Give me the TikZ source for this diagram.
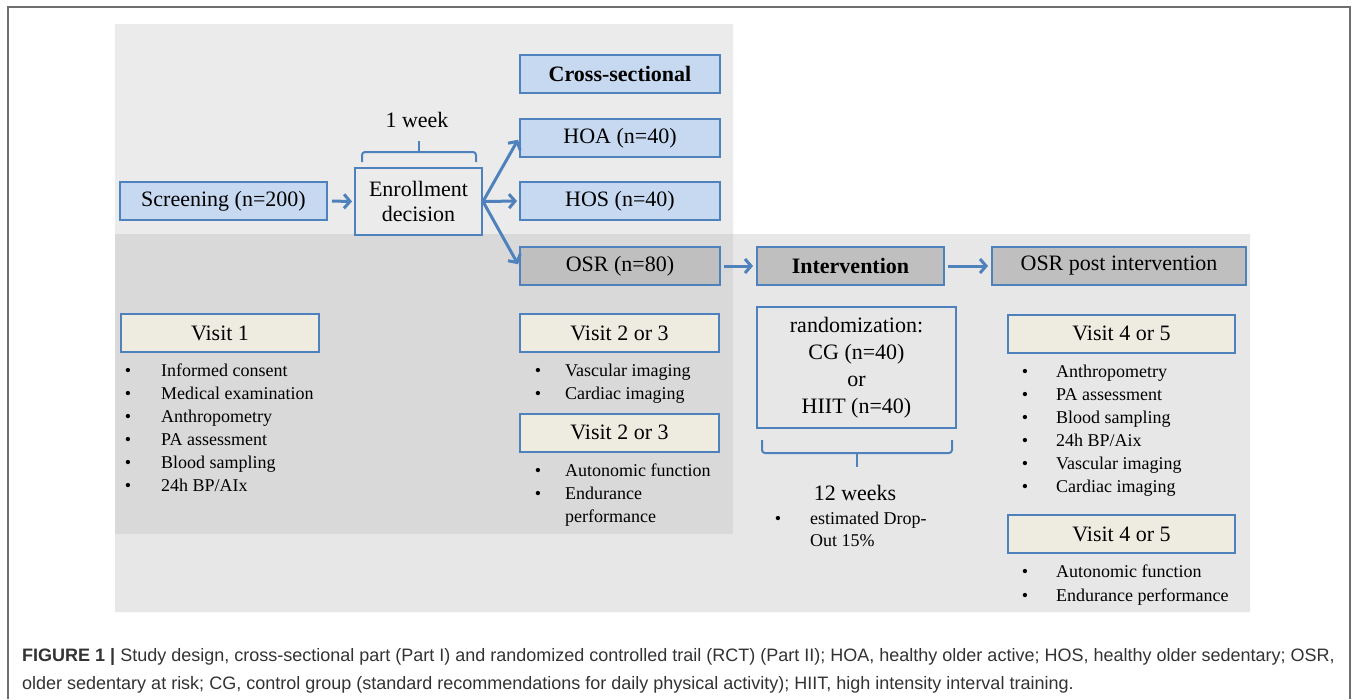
\documentclass[tikz,border=0pt]{standalone}
\usepackage{fontspec}
\setmainfont{Liberation Serif}
\newfontfamily\capfont{Liberation Sans}
\usetikzlibrary{arrows.meta}
\definecolor{bord}{HTML}{4F81BD}
\definecolor{lblue}{HTML}{C6D9F1}
\definecolor{mgray}{HTML}{BFBFBF}
\definecolor{beige}{HTML}{EEECE1}
\definecolor{bgdark}{HTML}{D9D9D9}
\definecolor{bglight}{HTML}{E7E7E7}
\definecolor{bgtop}{HTML}{EBEBEB}
\definecolor{framecol}{HTML}{6E6E6E}
\definecolor{captxt}{HTML}{333333}
\begin{document}
\begin{tikzpicture}[x=1pt,y=-1pt,
  box/.style={draw=bord, line width=2pt, inner sep=0pt, font=\fontsize{22}{27}\selectfont, align=center},
  bluebox/.style={box, fill=lblue, minimum width=200, minimum height=38},
  graybox/.style={box, fill=mgray, minimum height=38},
  visitbox/.style={box, fill=beige, minimum height=38},
  arr/.style={draw=bord, line width=3pt, -{Straight Barb[length=6pt,width=14pt]}},
  bracestyle/.style={draw=bord, line width=2pt, rounded corners=3pt},
  bul/.style={anchor=base, inner sep=0pt, font=\fontsize{18}{23}\selectfont},
  itm/.style={anchor=base west, inner sep=0pt, font=\fontsize{18}{23}\selectfont},
  lbl/.style={inner sep=0pt, font=\fontsize{22}{27}\selectfont},
  captionstyle/.style={anchor=base west, inner sep=0pt, text=captxt, font=\capfont\fontsize{18}{28}\selectfont}
]
\useasboundingbox (0,0) rectangle (1357,699);
\fill[white] (0,0) rectangle (1357,699);
% backgrounds
\fill[bglight] (115,24) -- (733,24) -- (733,234) -- (1250,234) -- (1250,612) -- (115,612) -- cycle;
\fill[bgtop] (115,24) rectangle (733,234);
\fill[bgdark] (115,234) rectangle (733,534);
% frame
\draw[framecol, line width=1.5pt] (8,699) -- (8,7) -- (1350,7) -- (1350,699);

% boxes
\node[bluebox] (cs) at (620,74) {\textbf{Cross-sectional}};
\node[bluebox] (hoa) at (620,138) {HOA (n=40)};
\node[bluebox] (hos) at (620,201) {HOS (n=40)};
\node[bluebox, minimum width=207] (scr) at (223.5,201) {Screening (n=200)};
\node[box, fill=bgtop, minimum width=127, minimum height=67, font=\fontsize{22}{25}\selectfont] (enr) at (418.5,201.5) {Enrollment\\decision};
\node[graybox, minimum width=200] (osr) at (620,266) {OSR (n=80)};
\node[graybox, minimum width=187] (int) at (850.5,266) {\textbf{Intervention}};
\node[graybox, minimum width=254] (post) at (1119,266) {OSR post intervention};
\node[visitbox, minimum width=198] (v1) at (220,333) {Visit 1};
\node[visitbox, minimum width=199] (v2a) at (619.5,333) {Visit 2 or 3};
\node[visitbox, minimum width=199] (v2b) at (619.5,432.5) {Visit 2 or 3};
\node[box, fill=bglight, minimum width=199, minimum height=121] (rnd) at (856.5,367.5) {randomization:\\CG (n=40)\\or\\HIIT (n=40)};
\node[visitbox, minimum width=227] (v4a) at (1121.5,333.5) {Visit 4 or 5};
\node[visitbox, minimum width=227] (v4b) at (1121.5,534) {Visit 4 or 5};

% labels
\node[lbl] (wk1) at (417,120) {1 week};
\node[lbl] (wk12) at (855,493) {12 weeks};

% braces
\coordinate (b1l) at (362,162);
\coordinate (b1r) at (476,162);
\coordinate (b1t) at (419,141);
\draw[bracestyle] (b1l) -- (362,152) -- (476,152) -- (b1r);
\draw[bracestyle] (419,152) -- (b1t);
\coordinate (b2l) at (762,440);
\coordinate (b2r) at (952,440);
\coordinate (b2t) at (857,467);
\draw[bracestyle] (b2l) -- (762,453) -- (952,453) -- (b2r);
\draw[bracestyle] (857,453) -- (b2t);

% arrows
\draw[arr, shorten <=4pt, shorten >=2pt] (scr.east) -- (enr.west);
\draw[arr, shorten >=2pt] (enr.east) -- (hoa.west);
\draw[arr, shorten >=2pt] (enr.east) -- (hos.west);
\draw[arr, shorten >=2pt] (enr.east) -- (osr.west);
\draw[arr, shorten <=3pt, shorten >=3pt] (osr.east) -- (int.west);
\draw[arr, shorten <=3pt, shorten >=3pt] (int.east) -- (post.west);

% lists
\foreach \t [count=\i] in {Informed consent, Medical examination, Anthropometry, PA assessment, Blood sampling, 24h BP/AIx}{
  \node[bul] (la\i) at (128,{376+23*(\i-1)}) {\textbullet};
  \node[itm] (ta\i) at (161,{376+23*(\i-1)}) {\t};
}
\foreach \t [count=\i] in {Vascular imaging, Cardiac imaging}{
  \node[bul] (lb\i) at (538,{376+23*(\i-1)}) {\textbullet};
  \node[itm] (tb\i) at (565,{376+23*(\i-1)}) {\t};
}
\node[bul] (lc1) at (538,476) {\textbullet};
\node[itm] (tc1) at (565,476) {Autonomic function};
\node[bul] (lc2) at (538,499) {\textbullet};
\node[itm] (tc2) at (565,499) {Endurance};
\node[itm] (tc3) at (565,522) {performance};
\node[bul] (ld1) at (778,524) {\textbullet};
\node[itm] (td1) at (810,524) {estimated Drop-};
\node[itm] (td2) at (810,546) {Out 15\%};
\foreach \t [count=\i] in {Anthropometry, PA assessment, Blood sampling, 24h BP/Aix, Vascular imaging, Cardiac imaging}{
  \node[bul] (le\i) at (1025,{377+23*(\i-1)}) {\textbullet};
  \node[itm] (te\i) at (1056,{377+23*(\i-1)}) {\t};
}
\node[bul] (lf1) at (1025,577) {\textbullet};
\node[itm] (tf1) at (1056,577) {Autonomic function};
\node[bul] (lf2) at (1025,601) {\textbullet};
\node[itm] (tf2) at (1056,601) {Endurance performance};

% caption
\node[captionstyle] (cap1) at (22,661) {\textbf{FIGURE 1 |} Study design, cross-sectional part (Part I) and randomized controlled trail (RCT) (Part II); HOA, healthy older active; HOS, healthy older sedentary; OSR,};
\node[captionstyle] (cap2) at (22,689) {older sedentary at risk; CG, control group (standard recommendations for daily physical activity); HIIT, high intensity interval training.};
\end{tikzpicture}
\end{document}
